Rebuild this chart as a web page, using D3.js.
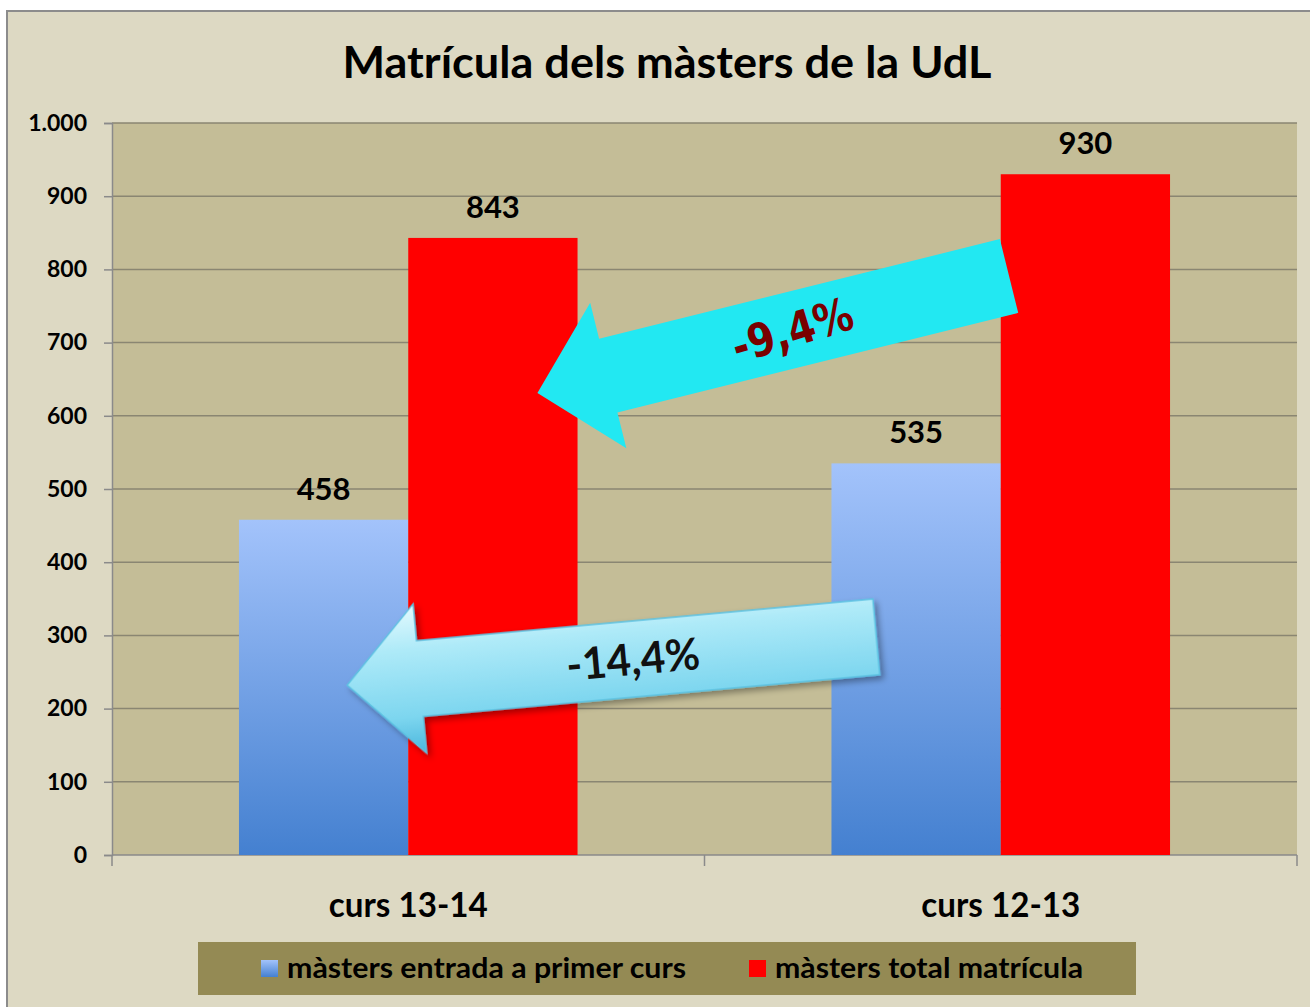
<!DOCTYPE html>
<html>
<head>
<meta charset="utf-8">
<script src="https://cdn.jsdelivr.net/npm/d3@7"></script>
<style>
  html, body { margin: 0; padding: 0; background: #ffffff; }
  svg { display: block; }
  text { font-family: Lato, "Open Sans", sans-serif; font-weight: bold; fill: #000; }
</style>
</head>
<body>
<div id="chart"></div>
<script>
// data
const categories = ["curs 13-14", "curs 12-13"];
const seriesNames = ["màsters entrada a primer curs", "màsters total matrícula"];
const entradaValues = [458, 535];
const totalValues = [843, 930];
const yTicks = [0, 100, 200, 300, 400, 500, 600, 700, 800, 900, 1000];

// change arrows: tail/tip as [category, fraction of band, value]
const arrows = [
  { label: "-9,4%", tail: ["curs 12-13", 0.514, 791], tip: ["curs 13-14", 0.718, 631], style: "flat" },
  { label: "-14,4%", tail: ["curs 12-13", 0.29, 298], tip: ["curs 13-14", 0.397, 232], style: "bevel" }
];

const W = 1310, H = 1007;
const margin = { top: 123, right: 13, bottom: 152, left: 112 };
const width = W - margin.left - margin.right;
const height = H - margin.top - margin.bottom;

const rows = categories.map((c, i) => ({ cat: c, values: [entradaValues[i], totalValues[i]] }));

const svg = d3.select("#chart").append("svg")
  .attr("width", W)
  .attr("height", H);

const defs = svg.append("defs");
const blueGrad = defs.append("linearGradient")
  .attr("id", "blueGrad").attr("x1", 0).attr("y1", 0).attr("x2", 0).attr("y2", 1);
blueGrad.append("stop").attr("offset", "0%").attr("stop-color", "#a3c3fb");
blueGrad.append("stop").attr("offset", "100%").attr("stop-color", "#4480d0");

const bevelGrad = defs.append("linearGradient")
  .attr("id", "bevelGrad").attr("x1", 0).attr("y1", 0).attr("x2", 0).attr("y2", 1);
bevelGrad.append("stop").attr("offset", "0%").attr("stop-color", "#e4fafe");
bevelGrad.append("stop").attr("offset", "30%").attr("stop-color", "#aeeaf8");
bevelGrad.append("stop").attr("offset", "75%").attr("stop-color", "#7dd6ef");
bevelGrad.append("stop").attr("offset", "100%").attr("stop-color", "#4ab6dc");

const shadow = defs.append("filter").attr("id", "shadow")
  .attr("x", "-10%").attr("y", "-20%").attr("width", "130%").attr("height", "160%");
shadow.append("feDropShadow")
  .attr("dx", 3).attr("dy", 4).attr("stdDeviation", 3)
  .attr("flood-color", "#000").attr("flood-opacity", 0.35);

// chart background
svg.append("rect")
  .attr("x", 7).attr("y", 11)
  .attr("width", W).attr("height", H)
  .attr("fill", "#ddd9c3")
  .attr("stroke", "#8c8c8c")
  .attr("stroke-width", 2);

svg.append("text")
  .attr("x", 667).attr("y", 78)
  .attr("text-anchor", "middle")
  .attr("font-size", 44)
  .attr("textLength", 649)
  .attr("lengthAdjust", "spacingAndGlyphs")
  .text("Matrícula dels màsters de la UdL");

const g = svg.append("g")
  .attr("transform", `translate(${margin.left},${margin.top})`);

// Scales
const x0 = d3.scaleBand()
  .domain(categories)
  .range([0, width]);

const x1 = d3.scaleBand()
  .domain(seriesNames)
  .range([0, x0.bandwidth()])
  .paddingOuter(0.75);

const y = d3.scaleLinear()
  .domain([0, 1000])
  .range([height, 0]);

const color = d3.scaleOrdinal()
  .domain(seriesNames)
  .range(["url(#blueGrad)", "#ff0000"]);

const fmt = d3.formatLocale({ decimal: ",", thousands: ".", grouping: [3], currency: ["", " €"] }).format(",d");

g.append("rect")
  .attr("width", width)
  .attr("height", height)
  .attr("fill", "#c4bd97");

// grid
g.append("g")
  .selectAll("line")
  .data(yTicks.filter(d => d > 0))
  .enter().append("line")
  .attr("x1", 0).attr("x2", width)
  .attr("y1", d => y(d)).attr("y2", d => y(d))
  .attr("stroke", "#8a8672")
  .attr("stroke-width", 1.5);

// y axis
const yAxis = g.append("g")
  .call(d3.axisLeft(y).tickValues(yTicks).tickFormat(fmt).tickSize(8).tickPadding(17));
yAxis.select(".domain").attr("stroke", "#8a8a8a").attr("stroke-width", 1.5);
yAxis.selectAll(".tick line").attr("stroke", "#8a8a8a").attr("stroke-width", 1.5);
yAxis.selectAll("text")
  .attr("font-size", 23)
  .style("font-family", "Lato, sans-serif")
  .style("font-weight", "bold")
  .style("fill", "#000");

// x axis line with boundary ticks
g.append("line")
  .attr("x1", 0).attr("x2", width)
  .attr("y1", height).attr("y2", height)
  .attr("stroke", "#8a8a8a").attr("stroke-width", 1.5);
g.selectAll(".xtick")
  .data(categories.map(c => x0(c)).concat([width]))
  .enter().append("line")
  .attr("class", "xtick")
  .attr("x1", d => d).attr("x2", d => d)
  .attr("y1", height).attr("y2", height + 11)
  .attr("stroke", "#8a8a8a").attr("stroke-width", 1.5);

g.selectAll(".xlabel")
  .data(categories)
  .enter().append("text")
  .attr("class", "xlabel")
  .attr("x", d => x0(d) + x0.bandwidth() / 2)
  .attr("y", height + 62)
  .attr("text-anchor", "middle")
  .attr("font-size", 35)
  .attr("textLength", 159)
  .attr("lengthAdjust", "spacingAndGlyphs")
  .text(d => d);

// bars
const groups = g.selectAll(".group")
  .data(rows)
  .enter().append("g")
  .attr("class", "group")
  .attr("transform", d => `translate(${x0(d.cat)},0)`);

groups.selectAll("rect")
  .data(d => d.values.map((v, i) => ({ key: seriesNames[i], value: v })))
  .enter().append("rect")
  .attr("x", d => x1(d.key))
  .attr("y", d => y(d.value))
  .attr("width", x1.bandwidth())
  .attr("height", d => height - y(d.value))
  .attr("fill", d => color(d.key));

groups.selectAll(".val")
  .data(d => d.values.map((v, i) => ({ key: seriesNames[i], value: v })))
  .enter().append("text")
  .attr("class", "val")
  .attr("x", d => x1(d.key) + x1.bandwidth() / 2)
  .attr("y", d => y(d.value) - 20)
  .attr("text-anchor", "middle")
  .attr("font-size", 31)
  .text(d => fmt(d.value));

// arrows
const pt = p => [x0(p[0]) + p[1] * x0.bandwidth(), y(p[2])];
const shaftW = 76, headW = 150, headL = 73;

arrows.forEach(a => {
  const [tx, ty] = pt(a.tail);
  const [hx, hy] = pt(a.tip);
  const len = Math.hypot(hx - tx, hy - ty);
  const ang = Math.atan2(ty - hy, tx - hx) * 180 / Math.PI;
  // local coords: tip at 0,0, tail at len,0
  const s = shaftW / 2, h = headW / 2;
  const path = `M0,0 L${headL},${-h} L${headL},${-s} L${len},${-s} L${len},${s} L${headL},${s} L${headL},${h} Z`;
  const ag = g.append("g")
    .attr("transform", `translate(${hx},${hy}) rotate(${ang})`);
  const flat = a.style === "flat";
  if (flat) {
    ag.append("path").attr("d", path).attr("fill", "#22e8f2");
  } else {
    ag.append("path").attr("d", path)
      .attr("fill", "url(#bevelGrad)")
      .attr("stroke", "#5cc2e2")
      .attr("stroke-width", 1.5)
      .attr("filter", "url(#shadow)");
  }
  const t = 0.54 * len;
  ag.append("text")
    .attr("transform", `translate(${t},0) rotate(${flat ? -3 : 0})`)
    .attr("text-anchor", "middle")
    .attr("dy", "0.36em")
    .attr("font-size", flat ? 46 : 44)
    .style("font-family", flat ? "'DejaVu Sans', sans-serif" : "Lato, sans-serif")
    .attr("textLength", flat ? 124 : 134)
    .attr("lengthAdjust", "spacingAndGlyphs")
    .style("fill", flat ? "#7a0000" : "#111")
    .text(a.label);
});

// legend
const legend = svg.append("g").attr("transform", "translate(198,942)");
legend.append("rect")
  .attr("width", 938).attr("height", 53)
  .attr("fill", "#948a54");
const legendX = [63, 551];
const legendLen = [399, 308];
const items = legend.selectAll(".item")
  .data(seriesNames)
  .enter().append("g")
  .attr("class", "item")
  .attr("transform", (d, i) => `translate(${legendX[i]},0)`);
items.append("rect")
  .attr("y", 18).attr("width", 17).attr("height", 17)
  .attr("fill", d => color(d));
items.append("text")
  .attr("x", 26).attr("y", 36)
  .attr("font-size", 29)
  .attr("textLength", (d, i) => legendLen[i])
  .attr("lengthAdjust", "spacingAndGlyphs")
  .text(d => d);
</script>
</body>
</html>
